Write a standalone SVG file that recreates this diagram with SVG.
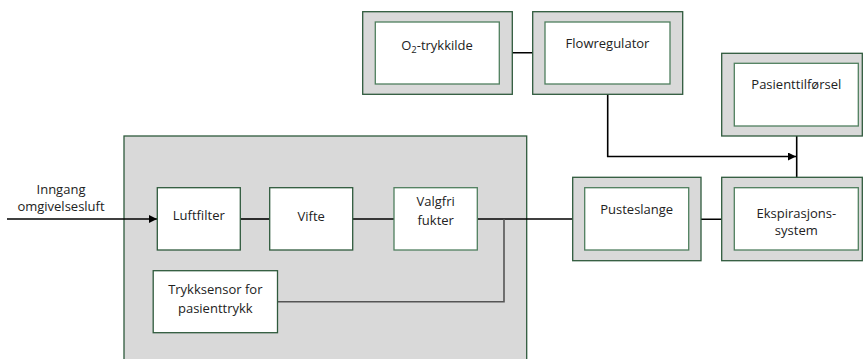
<svg xmlns="http://www.w3.org/2000/svg" width="864" height="359" viewBox="0 0 864 359">
<style>
.outer{fill:#d9d9d9;stroke:#2f5a3c;stroke-width:1.3}
.inner{fill:#ffffff;stroke:#4f7f5e;stroke-width:1.3}
.in2{fill:#ffffff;stroke:#2f5a3c;stroke-width:1.3}
text{font-family:"Open Sans","Noto Sans","DejaVu Sans",sans-serif;font-size:13px;fill:#222;text-anchor:middle}
.ln{fill:none;stroke:#000;stroke-width:1.6}
.ln2{fill:none;stroke:#555;stroke-width:1.6}
</style>
<defs>
<marker id="ah" viewBox="0 0 10 10" refX="10" refY="5" markerWidth="8" markerHeight="8" markerUnits="userSpaceOnUse" orient="auto">
<path d="M0,0 L10,5 L0,10 z" fill="#000"/>
</marker>
</defs>
<g id="apparat">
<rect class="outer" x="124" y="136" width="402.7" height="240"/>
</g>
<g id="connectors">
<path class="ln" d="M7,219 H157" marker-end="url(#ah)"/>
<path class="ln" d="M240.3,219 H269.7"/>
<path class="ln" d="M352.7,219 H394"/>
<path class="ln" d="M477.3,219 H584.7"/>
<path class="ln2" d="M504,219 V301.7 H277.5"/>
<path class="ln" d="M688.7,219.3 H734.3"/>
<path class="ln" d="M499.3,52.7 H545" marker-end="url(#ah)"/>
<path class="ln" d="M607.7,84 V156.5 H796" marker-end="url(#ah)"/>
<path class="ln" d="M796.7,126 V187.7"/>
</g>
<g id="luftfilter">
<rect class="in2" x="157.3" y="187.7" width="83" height="62.3"/>
<text x="198.8" y="220">Luftfilter</text>
</g>
<g id="vifte">
<rect class="in2" x="269.7" y="187.7" width="83" height="62.3"/>
<text x="311.2" y="221">Vifte</text>
</g>
<g id="fukter">
<rect class="inner" x="394" y="187.7" width="83.3" height="62.3"/>
<text x="435.7" y="206">Valgfri</text>
<text x="435.7" y="225">fukter</text>
</g>
<g id="trykksensor">
<rect class="in2" x="153.2" y="270.7" width="124.3" height="62"/>
<text x="215.3" y="294">Trykksensor for</text>
<text x="215.3" y="312.5">pasienttrykk</text>
</g>
<g id="inngang">
<text x="61" y="193.5">Inngang</text>
<text x="61" y="210.5">omgivelsesluft</text>
</g>
<g id="o2">
<rect class="outer" x="362.7" y="11.7" width="149.6" height="82.6"/>
<rect class="inner" x="375.3" y="22" width="124" height="62"/>
<text x="437" y="49.5">O<tspan font-size="9.5px" dy="3">2</tspan><tspan dy="-3">-trykkilde</tspan></text>
</g>
<g id="flowregulator">
<rect class="outer" x="532.7" y="11.7" width="150" height="82.6"/>
<rect class="inner" x="545" y="22" width="125" height="62"/>
<text x="607.5" y="48">Flowregulator</text>
</g>
<g id="pasienttilforsel">
<rect class="outer" x="721.7" y="53.3" width="140.6" height="82.7"/>
<rect class="inner" x="734.3" y="63.3" width="124" height="62.7"/>
<text x="796.3" y="88.5">Pasienttilførsel</text>
</g>
<g id="pusteslange">
<rect class="outer" x="572.7" y="177.3" width="128.3" height="83.4"/>
<rect class="inner" x="584.7" y="187.7" width="104" height="62.3"/>
<text x="636.7" y="213.5">Pusteslange</text>
</g>
<g id="ekspirasjon">
<rect class="outer" x="721.7" y="177.3" width="140.6" height="83.4"/>
<rect class="inner" x="734.3" y="187.7" width="124" height="62.3"/>
<text x="796.3" y="217.5">Ekspirasjons-</text>
<text x="796.3" y="234.5">system</text>
</g>
</svg>
